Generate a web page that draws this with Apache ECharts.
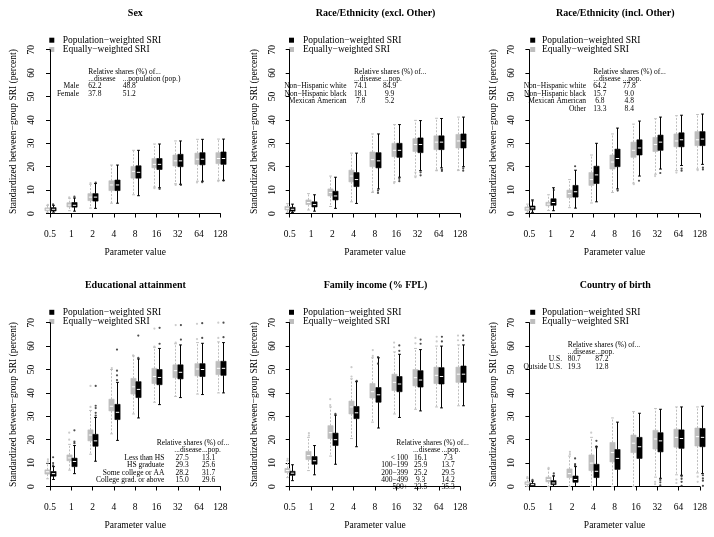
<!DOCTYPE html>
<html><head><meta charset="utf-8">
<script src="https://cdn.jsdelivr.net/npm/echarts@6/dist/echarts.min.js"></script>
<style>html,body{margin:0;padding:0;background:#fff}#c{width:714px;height:537px}</style>
</head><body><div id="c"></div>
<script>
// ---------- data ----------
const paramLabels = ['0.5','1','2','4','8','16','32','64','128'];
const panelTitles = ['Sex','Race/Ethnicity (excl. Other)','Race/Ethnicity (incl. Other)',
  'Educational attainment','Family income (% FPL)','Country of birth'];
const seriesNames = ['Population\u2212weighted SRI','Equally\u2212weighted SRI'];
const yAxisTitle = 'Standardized between\u2212group SRI (percent)';
const xAxisTitle = 'Parameter value';

// box stats per parameter value: [lower whisker, Q1, median, Q3, upper whisker]
const sexEqual = [[0.5,1.2,1.8,2.4,3.5],[1.2,2.8,3.6,4.6,6.5],[2.3,5.5,7,8.5,12.5],[4.4,9.8,12.2,14,20.7],[8,15.1,18,20.1,27],[11.3,19.5,21,23.5,29.7],[12.7,20.3,22.5,25,31],[13.8,21,23.2,25.8,31.7],[14.2,21.3,23.5,26,31.8]];
const sexPop = [[0.6,1.1,1.8,2.5,3.5],[1,2.7,3.5,4.7,6.6],[2.2,5.3,7,8.5,12.8],[4.4,9.8,12.2,14.3,20.7],[7.6,15.1,17.6,20.4,27],[11,18.8,21,23.5,29.7],[12.5,20,22.5,25.3,31],[13.8,20.8,23.2,26,31.7],[14.2,21,23.5,26.3,31.8]];
const sexEqualOut = [[0,3.7],[1,6.9],[2,13],[5,10.8],[6,12.2],[7,13.3],[8,13.8]];
const sexPopOut = [[0,3.9],[1,7.2],[2,13.2],[5,10.5],[6,12.2],[7,13.4],[8,14]];

const raceExEqual = [[0.5,1.5,2.2,3,4.2],[1.5,3.8,4.7,5.8,8.5],[3,7.5,9,10.5,16],[5,13.5,16,18.5,25.8],[9,20,23,26.3,34],[13.5,24.3,27,30,38],[16,26.5,29.5,32,39.8],[18.3,27.3,30.5,33.2,40.7],[18.5,28,31,33.8,41.2]];
const raceExPop = [[0.4,1,1.8,2.6,4],[1,2.8,3.8,5,8],[2.2,5.8,7.5,9.5,15.5],[4.3,11.5,14.5,17.5,25.8],[10.5,19.5,22.5,26,34],[15.5,24,27,30,38],[18.3,26,29.5,32.3,39.7],[19.5,27.3,30.5,33.2,40.6],[20,28,31,34,41.2]];
const raceExEqualOut = [[4,9.5],[5,13],[6,17.5],[6,15.5],[7,18.5],[8,18.5]];
const raceExPopOut = [[4,9.8],[4,8.8],[5,14.8],[5,13.8],[6,17.6],[6,16.3],[7,18.8],[7,18.2],[8,19.3],[8,18.3]];

const raceInEqual = [[0.5,1.3,2,2.8,4],[1.3,3.3,4,4.8,8],[2.5,6.8,8.5,10,14.5],[4.5,12,14.5,17.5,25],[9,19,22,25,34],[13,24,27,30.5,38.2],[16.8,26.5,29.5,32.5,40.5],[18.3,28.5,31,34,41.8],[19,29,31.5,35,42.3]];
const raceInPop = [[0.5,1.6,2.4,3.2,5.8],[1.2,3.5,4.7,6.3,11],[2.3,7,9.3,12,18.5],[5,12.8,16.5,20.2,30],[10.5,20,23.5,27.5,36.5],[16,25,28,31.5,39.5],[19,27,30.5,33.5,41.2],[20.5,28.5,31.5,34.5,42],[21,29,31.8,35,42.5]];
const raceInEqualOut = [[5,12.5],[6,16],[7,17.5],[8,18.5]];
const raceInPopOut = [[0,5.3],[1,10],[2,20.2],[4,9.8],[5,14],[6,17.3],[7,18.3],[7,19.2],[8,19.6],[8,18.8]];

const eduEqual = [[3.3,5.3,6.3,7.1,10],[7,11,12.2,13.5,18],[13.8,19.5,22,24.2,32.5],[22.5,32.3,34.3,37.3,50],[31,39.5,42.6,46.2,55.8],[36,44,47,50.5,59.5],[38.5,46.5,49.5,52,61],[39.5,47.3,50.2,52.5,61.5],[40,47.8,50.5,53.5,61.8]];
const eduPop = [[3,4.4,5.5,6.4,8.5],[5.5,8.5,10.7,12.1,17.5],[10.8,17.2,19.5,22.3,29.5],[19.7,28.6,31.7,35.1,44.5],[29.3,38,41.5,44.8,54.5],[35,43.5,46.6,50,59],[38,46,48.8,52,60.5],[39.3,47,50,52.5,61.2],[40,47.5,50.5,53.5,61.5]];
const eduEqualOut = [[0,10.8],[0,11.6],[1,20],[1,23],[2,34],[2,43],[3,50.6],[4,56],[5,59.8],[5,67.5],[6,61.5],[6,69],[7,63],[7,69.5],[8,63.5],[8,70]];
const eduPopOut = [[0,9],[0,10],[0,12.5],[1,18.5],[1,19.2],[1,24],[2,30.3],[2,31.5],[2,33.5],[2,34.5],[2,43],[3,45.5],[3,47.5],[3,49.5],[3,58.5],[4,55],[4,64.5],[5,61],[5,67.8],[6,62.8],[6,69],[7,63.5],[7,69.8],[8,63.8],[8,70]];

const incEqual = [[3.8,6,6.8,7.7,11],[6.8,11.5,13.2,15,21],[13,20.5,23,26,34],[20.5,31,34,36.5,46],[27.5,37.8,40.5,44,55],[31,41,44.5,48,57.5],[33,43,46.5,50,59],[34,44,47.5,51,60],[34.5,44.5,48,51,60.5]];
const incPop = [[2.5,4.8,5.7,6.5,9.3],[5,9.5,11,12.8,17.5],[9.5,17.5,20,22.8,30.5],[17,29,31.5,34.2,44.8],[25,36,39.2,42.3,55],[29.5,40.5,43.8,47,56.5],[32.3,42.5,45.5,49.5,58.5],[33.6,43.8,47,50.8,60],[34.5,44.5,48,51.5,60.5]];
const incEqualOut = [[0,11.8],[1,21.8],[1,22.8],[2,34.8],[2,37.3],[3,47],[3,51],[4,55.8],[4,58.3],[5,59.5],[5,61.5],[6,61.2],[6,63.5],[7,62],[7,64],[8,62.5],[8,64.5]];
const incPopOut = [[2,31],[3,45.2],[4,52.5],[4,55.3],[5,58],[5,60.3],[6,61],[6,62.8],[7,62],[7,64],[8,62.5],[8,64.5]];

const cobEqual = [[0,0.8,1.4,2,3.5],[0,2,3,4,7.5],[0,3.8,5.5,7.5,13],[0,6.8,10,13.5,21],[0,10.5,14.5,18.8,29.3],[0,14.5,18.5,22,32],[4,16,20.3,24,33.3],[5,16.8,21,24.5,34],[5.8,17.3,21.3,25,34]];
const cobPop = [[0,0.3,0.8,1.3,2.3],[0,0.8,1.5,2.5,4.5],[0,1.8,3,4.5,8.5],[0,3.8,6.5,9.5,17],[0,7.3,12,15.8,27.5],[0,12,17,21,31.3],[3.5,14.8,19.5,23,33],[4.8,16.3,20.5,24.2,34],[5.5,17,21,24.8,34.3]];
const cobEqualOut = [[0,4],[1,8],[2,13.8],[2,14.8],[3,23],[6,2],[6,1],[7,3],[7,1.5],[8,4.2],[8,2]];
const cobPopOut = [[0,2.8],[1,4.6],[1,5.6],[2,9],[2,9.6],[2,12],[3,16.6],[3,17.2],[3,19.5],[6,2.8],[6,1.8],[6,0.5],[7,4.3],[7,3.3],[7,2],[7,0.3],[8,4.8],[8,3.5],[8,2.5],[8,0.3]];

// relative shares tables: [group label, % of disease, % of population]
const sexShares = [['Male',62.2,48.8],['Female',37.8,51.2]];
const raceExShares = [['Non\u2212Hispanic white',74.1,84.9],['Non\u2212Hispanic black',18.1,9.9],['Mexican American',7.8,5.2]];
const raceInShares = [['Non\u2212Hispanic white',64.2,77.8],['Non\u2212Hispanic black',15.7,9.0],['Mexican American',6.8,4.8],['Other',13.3,8.4]];
const eduShares = [['Less than HS',27.5,13.1],['HS graduate',29.3,25.6],['Some college or AA',28.2,31.7],['College grad. or above',15.0,29.6]];
const incShares = [['< 100',16.1,7.3],['100\u2212199',25.9,13.7],['200\u2212399',25.2,29.5],['400\u2212499',9.3,14.2],['500+',23.5,35.3]];
const cobShares = [['U.S.',80.7,87.2],['Outside U.S.',19.3,12.8]];
const sharesHeader = 'Relative shares (%) of...';
const diseaseHeader = '...disease';
const popHeaders = ['...population (pop.)','...pop.','...pop.','...pop.','...pop.','...pop.'];

// ---------- layout / style ----------
const panels = [
  {eq: sexEqual, pop: sexPop, eqOut: sexEqualOut, popOut: sexPopOut, shares: sexShares},
  {eq: raceExEqual, pop: raceExPop, eqOut: raceExEqualOut, popOut: raceExPopOut, shares: raceExShares},
  {eq: raceInEqual, pop: raceInPop, eqOut: raceInEqualOut, popOut: raceInPopOut, shares: raceInShares},
  {eq: eduEqual, pop: eduPop, eqOut: eduEqualOut, popOut: eduPopOut, shares: eduShares},
  {eq: incEqual, pop: incPop, eqOut: incEqualOut, popOut: incPopOut, shares: incShares},
  {eq: cobEqual, pop: cobPop, eqOut: cobEqualOut, popOut: cobPopOut, shares: cobShares}
];
const FONT = '"Liberation Serif", "DejaVu Serif", serif';
const GRAY = '#bebebe';
const colX0 = [50, 289.7, 529.4];       // first tick x
const yAxisX = [42.3, 283, 522.7];      // y axis line x
const rowY0 = [213.5, 486.5];           // y of value 0
const xAxisY = [221, 494.3];            // x axis line y
const PLOT_W = 170.4, PLOT_H = 163.8;
const tableLayout = [
  {hx: 88.3, hy: 71.7, lx: 79, dx: 88.3, px: 122.7, dhx: 88.3},
  {hx: 354, hy: 71.7, lx: 346.5, dx: 354, px: 383, dhx: 354},
  {hx: 593.3, hy: 71.7, lx: 586, dx: 593.3, px: 622.7, dhx: 593.3},
  {hx: 156.7, hy: 443, lx: 164.3, dx: 175.5, px: 202, dhx: 174.3},
  {hx: 396.3, hy: 443, lx: 408, dx: 414, px: 441.5, dhx: 413},
  {hx: 567.7, hy: 344.7, lx: 562, dx: 567.7, px: 595.3, dhx: 567.7}
];
const legendX = [49.3, 289, 530.2];
const legendTextX = [62.7, 303, 542];
const legendY = [[40.2, 49.5], [312.3, 321.5]];
const LINE_H = 7.4;

function fmt(v) { return (v < 10 ? ' ' : '') + v.toFixed(1); }

function boxRenderer(offset, fill, stroke, dash) {
  return function (params, api) {
    const i = api.value(0);
    const pLo = api.coord([i, api.value(1)]);
    const pQ1 = api.coord([i, api.value(2)]);
    const pMd = api.coord([i, api.value(3)]);
    const pQ3 = api.coord([i, api.value(4)]);
    const pHi = api.coord([i, api.value(5)]);
    const cx = Math.round(pLo[0] + offset) + 0.5;
    const hw = 2.6, sw = 1.4;
    return {type: 'group', children: [
      {type: 'line', shape: {x1: cx, y1: pQ3[1], x2: cx, y2: pHi[1]}, style: {stroke: stroke, lineWidth: 1, lineDash: dash}},
      {type: 'line', shape: {x1: cx, y1: pQ1[1], x2: cx, y2: pLo[1]}, style: {stroke: stroke, lineWidth: 1, lineDash: dash}},
      {type: 'line', shape: {x1: cx - sw, y1: pHi[1], x2: cx + sw, y2: pHi[1]}, style: {stroke: stroke, lineWidth: 1}},
      {type: 'line', shape: {x1: cx - sw, y1: pLo[1], x2: cx + sw, y2: pLo[1]}, style: {stroke: stroke, lineWidth: 1}},
      {type: 'rect', shape: {x: cx - hw, y: pQ3[1], width: 2 * hw, height: pQ1[1] - pQ3[1]}, style: {fill: fill, stroke: fill, lineWidth: 0.6}},
      {type: 'line', shape: {x1: cx - hw + 0.9, y1: pMd[1], x2: cx + hw - 0.9, y2: pMd[1]}, style: {stroke: '#fff', lineWidth: 1}}
    ]};
  };
}

const grid = [], xAxis = [], yAxis = [], series = [], graphic = [];
panels.forEach(function (p, k) {
  const c = k % 3, r = Math.floor(k / 3);
  grid.push({left: colX0[c], top: rowY0[r] - PLOT_H, width: PLOT_W, height: PLOT_H});
  xAxis.push({
    gridIndex: k, type: 'value', min: 0, max: 8, interval: 1,
    offset: xAxisY[r] - rowY0[r],
    axisLine: {show: true, lineStyle: {color: '#000', width: 1}},
    axisTick: {show: true, length: 4, lineStyle: {color: '#000'}},
    splitLine: {show: false},
    axisLabel: {formatter: function (v) { return paramLabels[v]; }, color: '#000', fontFamily: FONT, fontSize: 9.5, margin: 8},
    name: xAxisTitle, nameLocation: 'middle', nameGap: 26,
    nameTextStyle: {color: '#000', fontFamily: FONT, fontSize: 9.5}
  });
  yAxis.push({
    gridIndex: k, type: 'value', min: 0, max: 70, interval: 10,
    offset: colX0[c] - yAxisX[c],
    axisLine: {show: true, lineStyle: {color: '#000', width: 1}},
    axisTick: {show: true, length: 4, lineStyle: {color: '#000'}},
    splitLine: {show: false},
    axisLabel: {rotate: 90, color: '#000', fontFamily: FONT, fontSize: 9.5, margin: 6},
    name: yAxisTitle, nameLocation: 'middle', nameGap: 24,
    nameTextStyle: {color: '#000', fontFamily: FONT, fontSize: 9.5}
  });
  series.push({
    type: 'custom', name: seriesNames[1], xAxisIndex: k, yAxisIndex: k,
    renderItem: boxRenderer(-2.6, GRAY, GRAY, [2, 1.5]),
    encode: {x: 0, y: [1, 2, 3, 4, 5]},
    data: p.eq.map(function (b, i) { return [i].concat(b); })
  });
  series.push({
    type: 'custom', name: seriesNames[0], xAxisIndex: k, yAxisIndex: k,
    renderItem: boxRenderer(2.6, '#000', '#000', null),
    encode: {x: 0, y: [1, 2, 3, 4, 5]},
    data: p.pop.map(function (b, i) { return [i].concat(b); })
  });
  series.push({
    type: 'scatter', name: seriesNames[1], xAxisIndex: k, yAxisIndex: k,
    symbol: 'circle', symbolSize: 2.2, symbolOffset: [-2.1, 0],
    itemStyle: {color: GRAY}, data: p.eqOut, silent: true
  });
  series.push({
    type: 'scatter', name: seriesNames[0], xAxisIndex: k, yAxisIndex: k,
    symbol: 'circle', symbolSize: 2.2, symbolOffset: [3.1, 0],
    itemStyle: {color: '#222'}, data: p.popOut, silent: true
  });

  graphic.push({type: 'text', x: (yAxisX[c] + colX0[c] + PLOT_W + 8) / 2, y: r === 0 ? 13.3 : 285.3,
    style: {text: panelTitles[k], fontFamily: FONT, fontSize: 10, fontWeight: 'bold', fill: '#000',
      align: 'center', verticalAlign: 'middle', textAlign: 'center', textVerticalAlign: 'middle'}});
  const lys = legendY[r];
  [[seriesNames[0], '#000'], [seriesNames[1], GRAY]].forEach(function (it, j) {
    graphic.push({type: 'rect', shape: {x: legendX[c], y: lys[j] - 2.5, width: 5, height: 5}, style: {fill: it[1]}});
    graphic.push({type: 'text', x: legendTextX[c], y: lys[j],
      style: {text: it[0], fontFamily: FONT, fontSize: 9.5, fill: '#000', align: 'left', verticalAlign: 'middle', textAlign: 'left', textVerticalAlign: 'middle'}});
  });
  const t = tableLayout[k];
  const ts = function (txt, x, y, al) {
    return {type: 'text', x: x, y: y, style: {text: txt, fontFamily: FONT, fontSize: 7.5, fill: '#000',
      align: al, verticalAlign: 'middle', textAlign: al, textVerticalAlign: 'middle'}};
  };
  graphic.push(ts(sharesHeader, t.hx, t.hy, 'left'));
  graphic.push(ts(diseaseHeader, t.dhx, t.hy + LINE_H, 'left'));
  graphic.push(ts(popHeaders[k], t.px, t.hy + LINE_H, 'left'));
  p.shares.forEach(function (row, j) {
    const y = t.hy + LINE_H * (j + 2);
    graphic.push(ts(row[0], t.lx, y, 'right'));
    graphic.push(ts(fmt(row[1]), t.dx, y, 'left'));
    graphic.push(ts(fmt(row[2]), t.px, y, 'left'));
  });
});

const chart = echarts.init(document.getElementById('c'), null, {renderer: 'canvas'});
chart.setOption({
  animation: false, backgroundColor: '#fff',
  grid: grid, xAxis: xAxis, yAxis: yAxis, series: series, graphic: graphic
});
</script></body></html>
